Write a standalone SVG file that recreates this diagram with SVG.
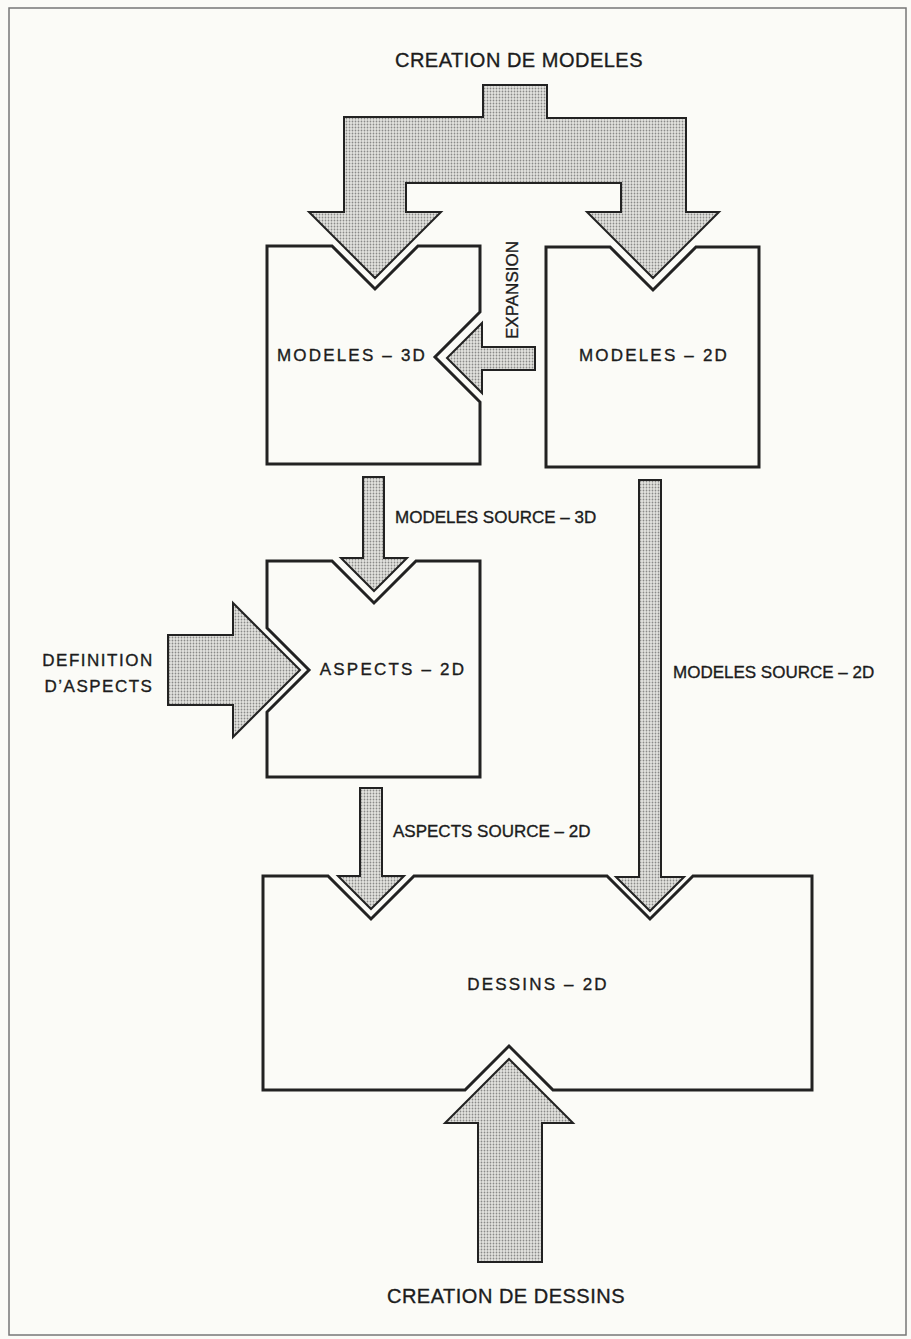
<svg xmlns="http://www.w3.org/2000/svg" width="911" height="1339" viewBox="0 0 911 1339">
<style>
.box{fill:#fbfbf7;stroke:#222;stroke-width:3;stroke-linejoin:miter}
.arr{fill:url(#dots);stroke:#222;stroke-width:2;stroke-linejoin:miter}
.t{font-family:"Liberation Sans",Arial,sans-serif;font-size:17px;fill:#1c1c1c;stroke:#1c1c1c;stroke-width:0.35}
.big{font-size:20px;letter-spacing:0.5px}
.bl{letter-spacing:2.2px}
.m{text-anchor:middle}
</style>
<defs>
<pattern id="dots" width="3" height="3" patternUnits="userSpaceOnUse">
<rect width="3" height="3" fill="#e4e4e0"/>
<circle cx="1.5" cy="1.5" r="0.9" fill="#8a8a88"/>
</pattern>
</defs>
<rect x="0" y="0" width="911" height="1339" fill="#fbfbf7"/>
<rect x="9" y="8" width="897" height="1327" fill="none" stroke="#777" stroke-width="1.5"/>

<g id="node-modeles-3d">
<path class="box" d="M267,246 H332 L375,289 L418,246 H480 V312 L435,357 L480,402 V464 H267 Z"/>
<text class="t bl m" x="352" y="361">MODELES – 3D</text>
</g>
<g id="node-modeles-2d">
<path class="box" d="M546,247 H610 L653,290 L696,247 H759 V467 H546 Z"/>
<text class="t bl m" x="654" y="361">MODELES – 2D</text>
</g>
<g id="node-aspects-2d">
<path class="box" d="M267,561 H332 L374,603 L416,561 H480 V777 H267 V712 L309,670 L267,628 Z"/>
<text class="t bl m" x="393" y="675">ASPECTS – 2D</text>
</g>
<g id="node-dessins-2d">
<path class="box" d="M263,876 H328 L371,919 L414,876 H607 L650,919 L693,876 H812 V1090 H553 L509,1046 L465,1090 H263 Z"/>
<text class="t bl m" x="538" y="990">DESSINS – 2D</text>
</g>

<g id="connectors">
<path class="arr" d="M483,85 H547 V118 H686 V212 H719 L653,278 L587,212 H621 V183 H406 V212 H441 L375,278 L309,212 H344 V117 H483 Z"/>
<path class="arr" d="M535,347 V370 H482 V393 L447,358 L482,323 V347 Z"/>
<path class="arr" d="M363,477 H384 V558 H407 L374,591 L341,558 H363 Z"/>
<path class="arr" d="M168,635 H233 V603 L300,670 L233,737 V705 H168 Z"/>
<path class="arr" d="M360,788 H382 V876 H404 L371,909 L338,876 H360 Z"/>
<path class="arr" d="M639,480 H661 V877 H684 L650,911 L616,877 H639 Z"/>
<path class="arr" d="M478,1262 H542 V1123 H573 L509,1059 L445,1123 H478 Z"/>
<text class="t big m" x="519" y="67">CREATION DE MODELES</text>
<text class="t m" transform="translate(518,290) rotate(-90)">EXPANSION</text>
<text class="t" x="395" y="523">MODELES SOURCE – 3D</text>
<text class="t" x="673" y="678">MODELES SOURCE – 2D</text>
<text class="t" x="393" y="837">ASPECTS SOURCE – 2D</text>
<text class="t m" x="98" y="666" style="letter-spacing:1.5px">DEFINITION</text>
<text class="t m" x="99" y="692" style="letter-spacing:1.5px">D’ASPECTS</text>
<text class="t big m" x="506" y="1303">CREATION DE DESSINS</text>
</g>
</svg>
